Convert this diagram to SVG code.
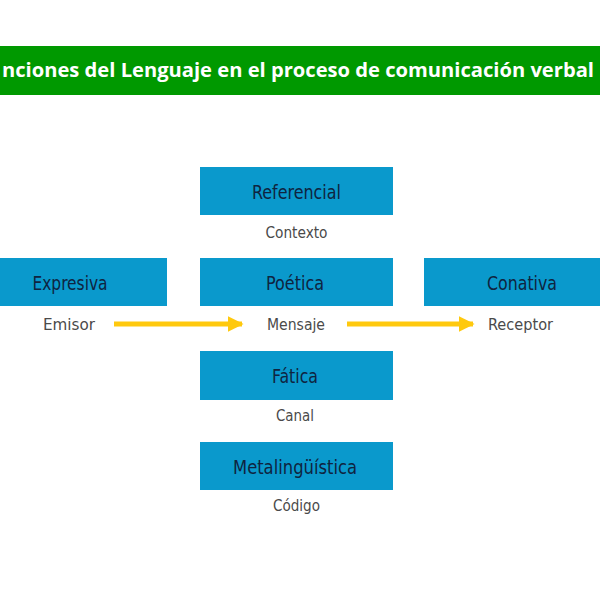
<svg xmlns="http://www.w3.org/2000/svg" width="600" height="600" viewBox="0 0 600 600">
<defs>
<style>
.box{fill:#0a99cc}
.fn{font-family:"DejaVu Sans Condensed","DejaVu Sans",sans-serif;font-stretch:condensed;font-size:20px;fill:#0f2440;text-anchor:middle}
.lbl{font-family:"DejaVu Sans Condensed","DejaVu Sans",sans-serif;font-stretch:condensed;font-size:16px;fill:#4a4a4a;text-anchor:middle}
.title{font-family:"Open Sans","Noto Sans",sans-serif;font-weight:bold;font-size:20px;fill:#ffffff}
.arr{stroke:#ffc90e;stroke-width:5;fill:none}
</style>
<marker id="ah" viewBox="0 0 10 10" refX="9" refY="5" markerWidth="3.2" markerHeight="3.2" markerUnits="strokeWidth" orient="auto">
<path d="M0,0 L10,5 L0,10 z" fill="#ffc90e"/>
</marker>
</defs>
<rect width="600" height="600" fill="#ffffff"/>
<g id="title">
<rect x="0" y="46" width="600" height="49" fill="#009900"/>
<text class="title" x="2" y="77" textLength="592" lengthAdjust="spacingAndGlyphs">nciones del Lenguaje en el proceso de comunicación verbal</text>
</g>
<g id="referencial">
<rect class="box" x="200" y="167" width="193" height="48"/>
<text class="fn" x="296.5" y="199" textLength="89" lengthAdjust="spacingAndGlyphs">Referencial</text>
<text class="lbl" x="296.5" y="238" textLength="62" lengthAdjust="spacingAndGlyphs">Contexto</text>
</g>
<g id="expresiva">
<rect class="box" x="-26" y="258" width="193" height="48"/>
<text class="fn" x="70" y="290" textLength="75" lengthAdjust="spacingAndGlyphs">Expresiva</text>
<text class="lbl" x="69" y="330" textLength="52" lengthAdjust="spacingAndGlyphs">Emisor</text>
</g>
<g id="poetica">
<rect class="box" x="200" y="258" width="193" height="48"/>
<text class="fn" x="295" y="290" textLength="58" lengthAdjust="spacingAndGlyphs">Poética</text>
<text class="lbl" x="296" y="330" textLength="58" lengthAdjust="spacingAndGlyphs">Mensaje</text>
</g>
<g id="conativa">
<rect class="box" x="424" y="258" width="193" height="48"/>
<text class="fn" x="522" y="290" textLength="70" lengthAdjust="spacingAndGlyphs">Conativa</text>
<text class="lbl" x="520.5" y="330" textLength="65" lengthAdjust="spacingAndGlyphs">Receptor</text>
</g>
<g id="fatica">
<rect class="box" x="200" y="351" width="193" height="49"/>
<text class="fn" x="295" y="383" textLength="46" lengthAdjust="spacingAndGlyphs">Fática</text>
<text class="lbl" x="295" y="421" textLength="38" lengthAdjust="spacingAndGlyphs">Canal</text>
</g>
<g id="metalinguistica">
<rect class="box" x="200" y="442" width="193" height="48"/>
<text class="fn" x="295" y="474" textLength="124" lengthAdjust="spacingAndGlyphs">Metalingüística</text>
<text class="lbl" x="296.5" y="511" textLength="47" lengthAdjust="spacingAndGlyphs">Código</text>
</g>
<g id="connectors">
<line class="arr" x1="114" y1="324" x2="242" y2="324" marker-end="url(#ah)"/>
<line class="arr" x1="347" y1="324" x2="473" y2="324" marker-end="url(#ah)"/>
</g>
</svg>
